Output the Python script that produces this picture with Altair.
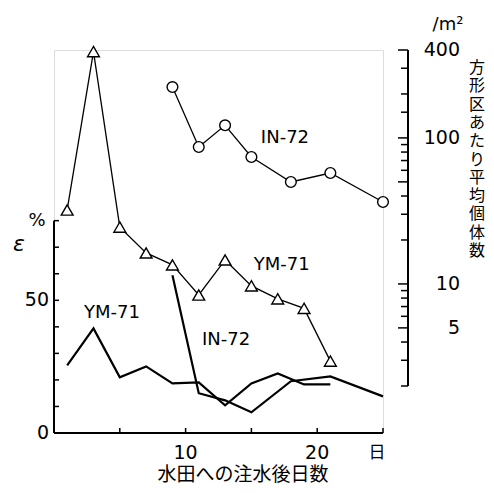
import altair as alt
import pandas as pd

# ---- data ----
ym_days = [1, 3, 5, 7, 9, 11, 13, 15, 17, 19, 21]
ym_density = [32.1, 390, 24.5, 16.3, 13.5, 8.4, 14.6, 9.7, 7.9, 6.8, 2.96]
ym_eps = [25.5, 39.4, 21.0, 25.1, 18.7, 19.1, 10.4, 18.7, 22.4, 18.3, 18.3]

in_days = [9, 11, 13, 15, 18, 21, 25]
in_density = [223, 86.7, 122, 74, 49.9, 57.5, 36.4]
in_eps = [59.4, 15.0, 12.3, 7.8, 19.5, 21.3, 13.8]

x_ticks = [0, 5, 10, 15, 20, 25]
x_labels = [10, 20]
eps_ticks = [0, 10, 20, 30, 40, 50, 60, 70, 80]
eps_labels = [0, 50]
dens_long_ticks = [5, 10, 50, 100, 400]
dens_short_ticks = [2, 3, 4, 6, 7, 8, 9, 20, 30, 40, 60, 70, 80, 90, 150, 200, 300]
dens_labels = [5, 10, 100, 400]

right_title_chars = list("方形区あたり平均個体数")

W, H = 329, 383
FONT = "DejaVu Sans"
JP = "Noto Sans CJK JP"

xs = alt.Scale(domain=[0, 25], nice=False, zero=False)
eps_scale = alt.Scale(domain=[0, 144.3], nice=False, zero=False)
dens_scale = alt.Scale(type="log", domain=[0.953, 400], nice=False)

X = lambda f: alt.X(f, scale=xs, axis=None)
YE = lambda f: alt.Y(f, scale=eps_scale, axis=None)
YD = lambda f: alt.Y(f, scale=dens_scale, axis=None)

eps_df = pd.DataFrame({
    "day": ym_days + in_days,
    "eps": ym_eps + in_eps,
    "series": ["YM-71"] * len(ym_days) + ["IN-72"] * len(in_days),
})
dens_df = pd.DataFrame({
    "day": ym_days + in_days,
    "dens": ym_density + in_density,
    "series": ["YM-71"] * len(ym_days) + ["IN-72"] * len(in_days),
})
ym_df = pd.DataFrame({"day": ym_days, "dens": ym_density})
in_df = pd.DataFrame({"day": in_days, "dens": in_density})

# ---------------- left (epsilon %) group ----------------
eps_lines = alt.Chart(eps_df).mark_line(color="black", strokeWidth=2.2).encode(
    x=X("day:Q"), y=YE("eps:Q"), detail="series:N")

eps_tick_rules = alt.Chart(pd.DataFrame({"v": eps_ticks})).mark_rule(
    color="black", strokeWidth=1.5).encode(
    y=YE("v:Q"), x=alt.value(0), x2=alt.value(5))
eps_domain = alt.Chart(pd.DataFrame({"a": [0], "b": [80]})).mark_rule(
    color="black", strokeWidth=2).encode(
    y=YE("a:Q"), y2="b:Q", x=alt.value(0))
eps_label_marks = alt.Chart(pd.DataFrame({"v": eps_labels})).mark_text(
    font=FONT, fontSize=19, color="black", align="right", baseline="middle").encode(
    y=YE("v:Q"), x=alt.value(-5), text="v:Q")
eps_text = alt.Chart(pd.DataFrame({
    "day": [4.4, 13.07], "eps": [45.1, 34.9], "t": ["YM-71", "IN-72"]})).mark_text(
    font=FONT, fontSize=18, color="black").encode(
    x=X("day:Q"), y=YE("eps:Q"), text="t:N")

left = alt.layer(eps_lines, eps_tick_rules, eps_domain, eps_label_marks, eps_text)

# ---------------- x axis pieces ----------------
x_domain = alt.Chart(pd.DataFrame({"a": [0], "b": [25]})).mark_rule(
    color="black", strokeWidth=2).encode(x=X("a:Q"), x2="b:Q", y=alt.value(H))
x_tick_rules = alt.Chart(pd.DataFrame({"d": x_ticks})).mark_rule(
    color="black", strokeWidth=1.5).encode(
    x=X("d:Q"), y=alt.value(H), y2=alt.value(H - 5))
x_label_marks = alt.Chart(pd.DataFrame({"d": x_labels})).mark_text(
    font=FONT, fontSize=19, color="black", baseline="middle").encode(
    x=X("d:Q"), y=alt.value(H + 20), text="d:Q")
x_unit = alt.Chart(pd.DataFrame({"d": [25], "t": ["日"]})).mark_text(
    font=JP, fontSize=17, color="black", baseline="middle", dx=-6).encode(
    x=X("d:Q"), y=alt.value(H + 20), text="t:N")

# ---------------- right (density, log) group ----------------
AX_R = W + 25
dens_lines = alt.Chart(dens_df).mark_line(color="black", strokeWidth=1.3).encode(
    x=X("day:Q"), y=YD("dens:Q"), detail="series:N")
tri = alt.Chart(ym_df).mark_point(
    shape="triangle-up", filled=True, fill="white", stroke="black",
    strokeWidth=1.4, size=140, opacity=1).encode(x=X("day:Q"), y=YD("dens:Q"))
circ = alt.Chart(in_df).mark_point(
    shape="circle", filled=True, fill="white", stroke="black",
    strokeWidth=1.4, size=115, opacity=1).encode(x=X("day:Q"), y=YD("dens:Q"))
long_rules = alt.Chart(pd.DataFrame({"v": dens_long_ticks})).mark_rule(
    color="black", strokeWidth=1.5).encode(
    y=YD("v:Q"), x=alt.value(AX_R - 10), x2=alt.value(AX_R))
short_rules = alt.Chart(pd.DataFrame({"v": dens_short_ticks})).mark_rule(
    color="black", strokeWidth=1.5).encode(
    y=YD("v:Q"), x=alt.value(AX_R - 7), x2=alt.value(AX_R))
dens_domain = alt.Chart(pd.DataFrame({"a": [2], "b": [400]})).mark_rule(
    color="black", strokeWidth=2).encode(
    y=YD("a:Q"), y2="b:Q", x=alt.value(AX_R))
dens_label_marks = alt.Chart(pd.DataFrame({"v": dens_labels})).mark_text(
    font=FONT, fontSize=19, color="black", align="right", baseline="middle").encode(
    y=YD("v:Q"), x=alt.value(AX_R + 52), text="v:Q")
dens_text = alt.Chart(pd.DataFrame({
    "day": [17.55, 17.3], "dens": [100, 13.4], "t": ["IN-72", "YM-71"]})).mark_text(
    font=FONT, fontSize=18, color="black").encode(
    x=X("day:Q"), y=YD("dens:Q"), text="t:N")

right = alt.layer(dens_lines, long_rules, short_rules, dens_domain, tri, circ,
                  dens_label_marks, dens_text)

# ---------------- free annotations ----------------
one = pd.DataFrame({"k": [0]})
def note(text, x, y, size, font=FONT, **kw):
    return alt.Chart(one).mark_text(text=text, font=font, fontSize=size,
                                    color="black", **kw).encode(
        x=alt.value(x), y=alt.value(y))

annots = alt.layer(
    note("ε", -35, 194, 22, fontStyle="italic"),
    note("%", -17, 171, 18),
    note("/m²", 394, -25, 18),
    note("水田への注水後日数", 189, 431, 19, font=JP, baseline="alphabetic"),
    note(right_title_chars, 423, 10, 16, font=JP, baseline="top", lineHeight=18.3),
    x_domain, x_tick_rules, x_label_marks, x_unit,
)

chart = alt.layer(left, right, annots).resolve_scale(y="independent").properties(
    width=W, height=H,
    autosize=alt.AutoSizeParams(type="none"),
    padding={"left": 46, "top": 42, "right": 103, "bottom": 52},
).configure_view(stroke=None).configure(background="white")

chart.save("out.html", embed_options={"renderer": "svg", "actions": False})
